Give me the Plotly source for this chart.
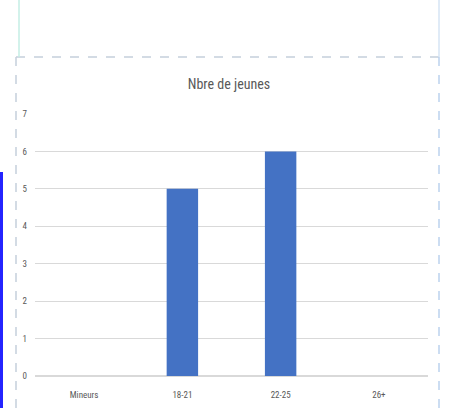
import plotly.graph_objects as go

categories = ["Mineurs", "18-21", "22-25", "26+"]
values = [0, 5, 6, 0]
y_ticks = [0, 1, 2, 3, 4, 5, 6, 7]

W, H = 449, 408
L, R, T, B = 35, 21, 114, 32
PW, PH = W - L - R, H - T - B

def px(x):
    return (x - L) / PW

def py(y):
    return (H - B - y) / PH

FONT = "Liberation Sans Narrow, Arial Narrow, Roboto Condensed, Liberation Sans, sans-serif"

fig = go.Figure(go.Bar(
    x=categories, y=values, marker_color="#4472C4", width=0.32,
    marker_line_width=0,
))

shapes = [
    dict(type="line", xref="paper", yref="paper", x0=px(16), x1=px(440), y0=py(57), y1=py(57),
         line=dict(color="#c5d0dc", width=1.5, dash="dash")),
    dict(type="line", xref="paper", yref="paper", x0=px(16), x1=px(16), y0=py(57), y1=py(410),
         line=dict(color="#c5d0dc", width=1.5, dash="dash")),
    dict(type="line", xref="paper", yref="paper", x0=px(439), x1=px(439), y0=py(57), y1=py(410),
         line=dict(color="#bcd2ee", width=1.5, dash="dash")),
    dict(type="line", xref="paper", yref="paper", x0=px(439), x1=px(439), y0=py(0), y1=py(57),
         line=dict(color="#d6e4f5", width=1.5)),
    dict(type="line", xref="paper", yref="paper", x0=px(19), x1=px(19), y0=py(0), y1=py(57),
         line=dict(color="#c4eee4", width=1.5)),
    dict(type="rect", xref="paper", yref="paper", x0=px(0), x1=px(3), y0=py(172), y1=py(410),
         fillcolor="#2424ff", line_width=0),
]

fig.update_layout(
    width=W, height=H,
    margin=dict(l=L, r=R, t=T, b=B),
    paper_bgcolor="white", plot_bgcolor="white",
    showlegend=False,
    bargap=0.68,
    font=dict(family=FONT, color="#595959", size=9),
    title=dict(text="Nbre de jeunes", x=229 / W, xanchor="center", y=1 - 84 / H, yanchor="middle",
               font=dict(size=14, color="#595959", family=FONT)),
    shapes=shapes,
    xaxis=dict(showgrid=False, showline=False, ticks="", ticklabelstandoff=12, automargin=False,
               tickfont=dict(size=9, color="#595959")),
    yaxis=dict(range=[0, 7], tickvals=y_ticks, showgrid=True, gridcolor="#d9d9d9", gridwidth=1,
               zeroline=True, zerolinecolor="#d9d9d9", showline=False, ticks="", automargin=False,
               ticklabelstandoff=7, tickfont=dict(size=9, color="#595959")),
)

fig.write_html("out.html", config={"displayModeBar": False},
               post_script="document.body.style.margin='0';document.body.style.overflow='hidden';")
